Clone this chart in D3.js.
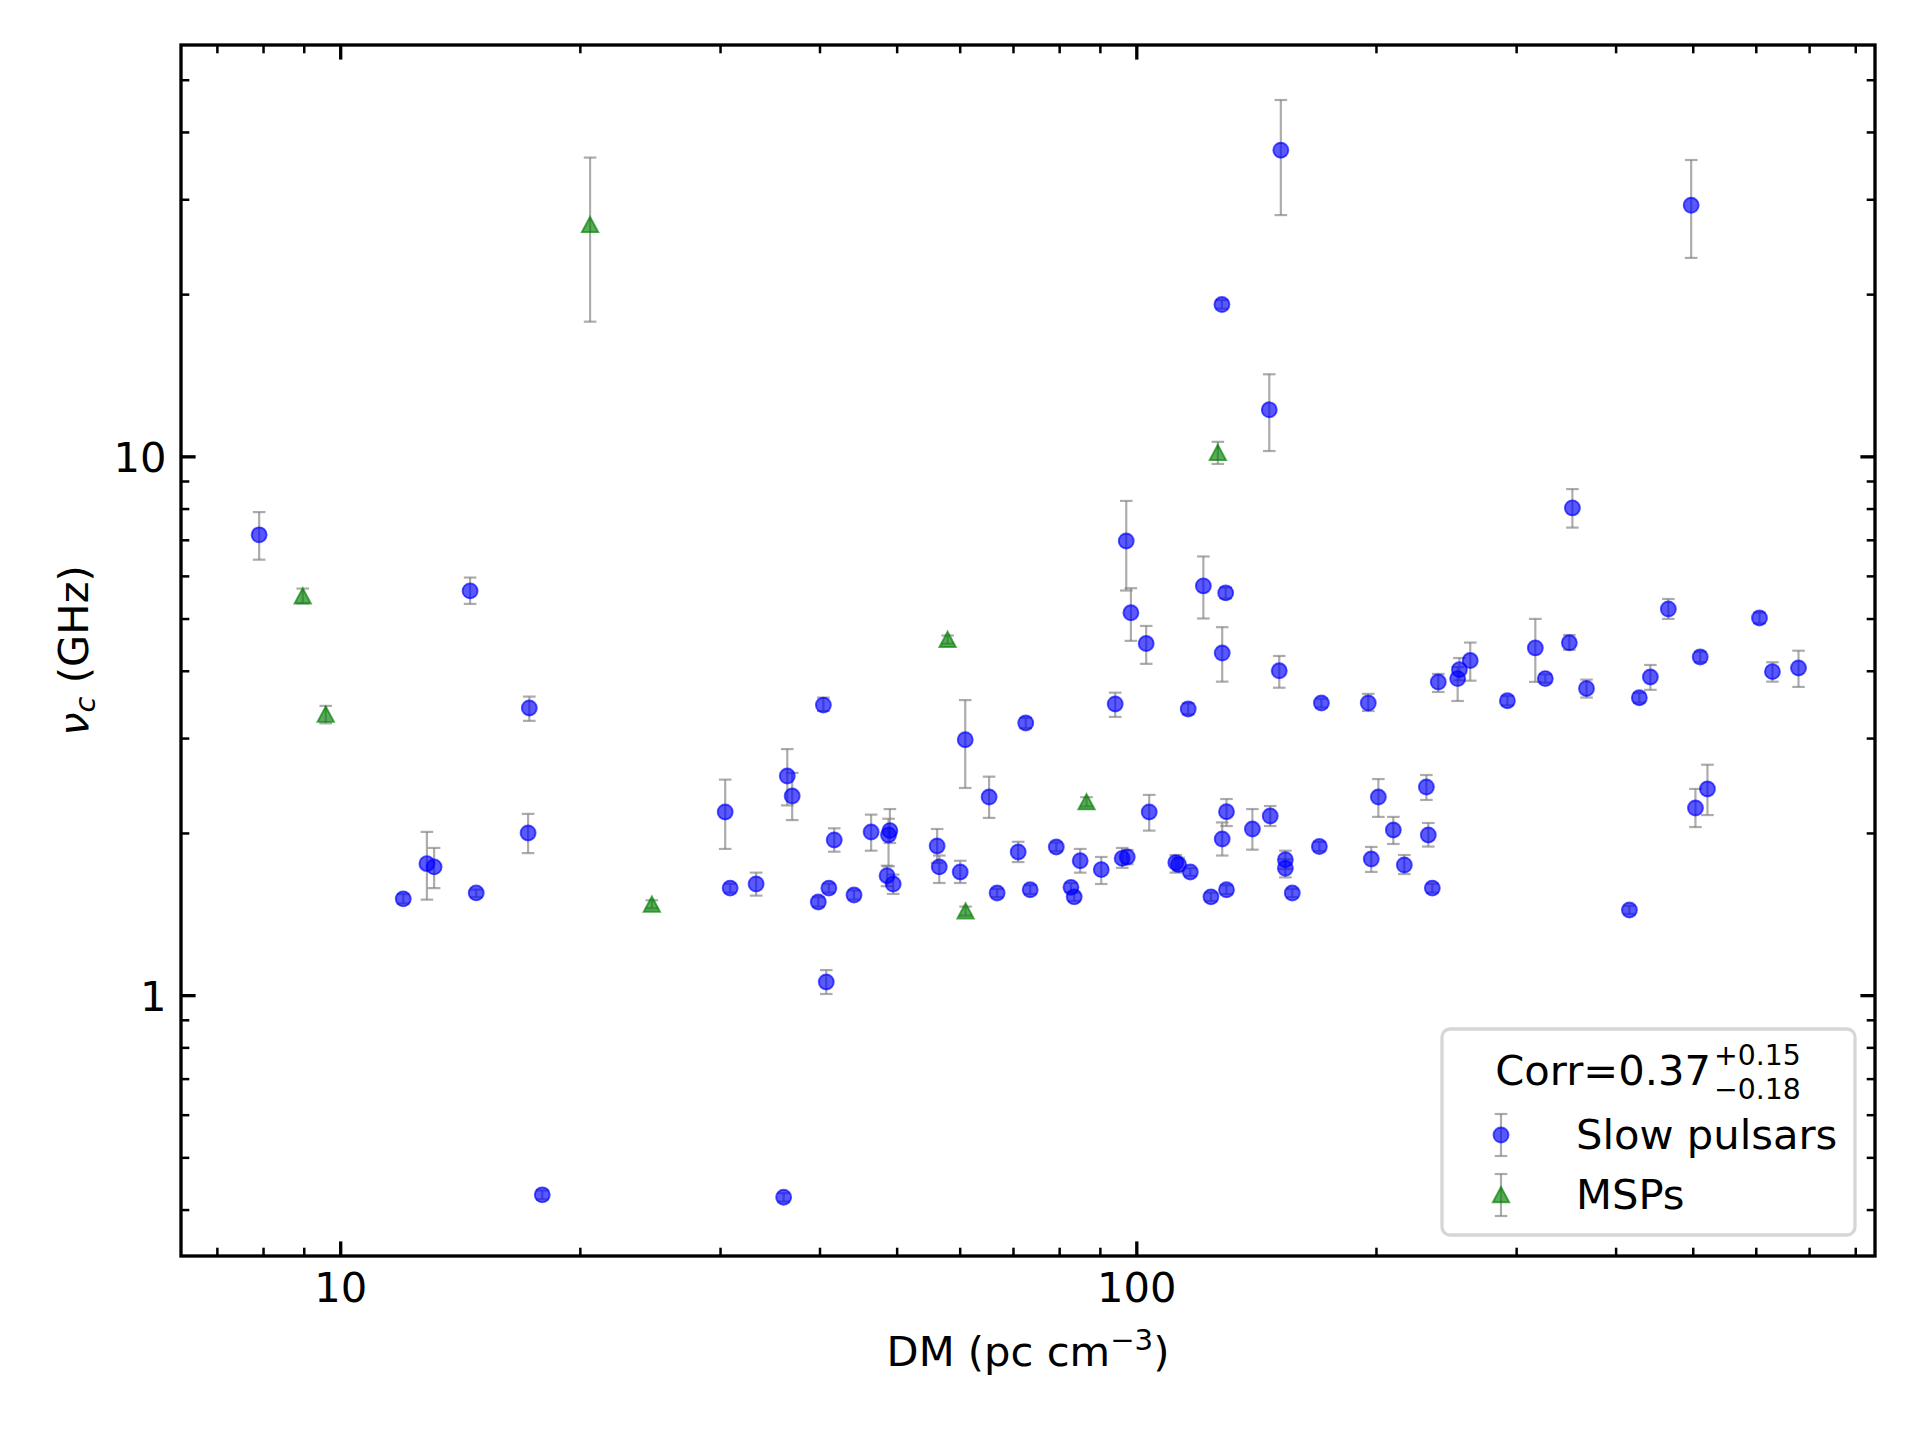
<!DOCTYPE html>
<html>
<head>
<meta charset="utf-8">
<script src="https://cdn.jsdelivr.net/npm/d3@7"></script>
<style>
  body { margin: 0; background: #fff; }
  svg { display: block; font-family: "DejaVu Sans", sans-serif; }
</style>
</head>
<body>
<script>
// slow pulsars: DM, turnover frequency and its lower / upper bound (GHz)
var slowDM = [7.91, 12.0, 12.85, 13.12, 14.56, 14.82, 17.28, 17.22, 17.94, 30.45,
  30.89, 33.30, 36.06, 36.44, 36.96, 40.45, 39.86, 40.79, 41.10, 41.74,
  44.20, 46.44, 49.03, 48.84, 48.63, 49.50, 56.21, 56.56, 60.09, 60.97,
  65.33, 66.86, 71.06, 72.63, 73.57, 79.34, 82.78, 83.56, 85.02, 90.36,
  94.08, 96.00, 97.41, 97.13, 98.45, 102.9, 103.8, 112.1, 113.0, 116.2,
  116.9, 121.4, 124.1, 128.2, 128.2, 128.1, 129.5, 129.8, 129.8, 139.9,
  146.9, 147.3, 151.2, 151.9, 153.9, 153.9, 157.0, 169.8, 170.8, 195.6,
  197.3, 201.4, 210.3, 217.1, 231.4, 232.7, 235.4, 239.5, 253.3, 254.6,
  262.7, 292.5, 317.1, 326.4, 349.9, 353.0, 367.7, 416.3, 428.4, 442.3,
  465.9, 497.7, 503.9, 510.9, 521.7, 606.4, 629.6, 678.9];
var slowNu = [7.15, 1.509, 1.754, 1.730, 5.627, 1.548, 3.412, 2.000, 0.426, 2.188,
  1.580, 1.608, 0.4217, 2.551, 2.342, 3.454, 1.489, 1.058, 1.580, 1.941,
  1.534, 2.008, 2.020, 1.983, 1.666, 1.608, 1.892, 1.730, 1.693, 2.979,
  2.332, 1.547, 1.844, 3.200, 1.569, 1.884, 1.585, 1.522, 1.776, 1.710,
  3.471, 1.794, 1.805, 6.966, 5.124, 4.493, 2.188, 1.762, 1.747, 3.397,
  1.693, 5.748, 1.522, 4.315, 1.949, 19.13, 5.579, 2.190, 1.569, 2.034,
  12.20, 2.150, 3.999, 37.00, 1.784, 1.720, 1.547, 1.887, 3.485, 3.485,
  1.789, 2.332, 2.026, 1.744, 2.434, 1.983, 1.580, 3.812, 3.868, 4.019,
  4.178, 3.519, 4.410, 3.868, 4.508, 8.022, 3.708, 1.439, 3.565, 3.895,
  5.208, 29.24, 2.225, 4.242, 2.414, 5.012, 3.985, 4.048];
var slowLo = [6.43, 1.48, 1.504, 1.580, 5.323, 1.52, 3.229, 1.835, 0.418, 1.868,
  1.55, 1.530, 0.414, 2.250, 2.113, 3.368, 1.46, 1.005, 1.55, 1.846,
  1.505, 1.854, 1.916, 1.734, 1.593, 1.541, 1.760, 1.615, 1.615, 2.424,
  2.133, 1.52, 1.766, 3.13, 1.54, 1.85, 1.555, 1.495, 1.688, 1.608,
  3.284, 1.723, 1.75, 5.636, 4.545, 4.120, 2.020, 1.688, 1.70, 3.32,
  1.665, 5.001, 1.495, 3.818, 1.816, 18.8, 5.45, 2.060, 1.54, 1.862,
  10.23, 2.060, 3.720, 28.04, 1.714, 1.654, 1.52, 1.85, 3.42, 3.368,
  1.693, 2.142, 1.908, 1.678, 2.303, 1.887, 1.55, 3.653, 3.515, 3.838,
  3.834, 3.45, 3.814, 3.80, 4.375, 7.375, 3.567, 1.415, 3.49, 3.687,
  4.992, 23.35, 2.051, 4.15, 2.159, 4.90, 3.818, 3.733];
var slowHi = [7.88, 1.54, 2.009, 1.876, 5.957, 1.57, 3.582, 2.170, 0.434, 2.512,
  1.61, 1.688, 0.429, 2.862, 2.585, 3.567, 1.52, 1.113, 1.61, 2.040,
  1.565, 2.163, 2.215, 2.125, 1.739, 1.674, 2.034, 1.816, 1.776, 3.529,
  2.544, 1.575, 1.926, 3.27, 1.60, 1.92, 1.615, 1.55, 1.868, 1.805,
  3.643, 1.876, 1.86, 8.265, 5.692, 4.844, 2.353, 1.820, 1.80, 3.48,
  1.72, 6.519, 1.55, 4.819, 2.092, 19.5, 5.71, 2.312, 1.60, 2.215,
  14.20, 2.244, 4.261, 45.85, 1.854, 1.788, 1.575, 1.925, 3.55, 3.624,
  1.884, 2.518, 2.142, 1.820, 2.562, 2.087, 1.61, 3.946, 4.064, 4.224,
  4.512, 3.59, 4.992, 3.94, 4.659, 8.694, 3.851, 1.465, 3.64, 4.100,
  5.436, 35.48, 2.414, 4.34, 2.677, 5.13, 4.148, 4.358];

// millisecond pulsars
var mspDM = [8.973, 9.590, 20.60, 24.63, 57.94, 61.03, 86.59, 126.6];
var mspNu = [5.499, 3.317, 26.89, 1.473, 4.569, 1.431, 2.282, 10.15];
var mspLo = [5.337, 3.195, 17.78, 1.45, 4.49, 1.405, 2.24, 9.68];
var mspHi = [5.683, 3.442, 35.85, 1.50, 4.65, 1.46, 2.33, 10.64];

// ticks
var xMajor = [10, 100];
var xMinor = [7, 8, 9, 20, 30, 40, 50, 60, 70, 80, 90, 200, 300, 400, 500, 600, 700, 800];
var yMajor = [1, 10];
var yMinor = [0.4, 0.5, 0.6, 0.7, 0.8, 0.9, 2, 3, 4, 5, 6, 7, 8, 9, 20, 30, 40, 50];

var legendTitle = {main: 'Corr=0.37', sup: '+0.15', sub: '\u22120.18'};
var legendLabels = ['Slow pulsars', 'MSPs'];

var w = 1920, h = 1440;
var L = 181, R = 1875, T = 45, B = 1256;
var fs = 41.67;
var majorLen = 14.6, minorLen = 8.3;

var x = d3.scaleLog().domain([6.31, 847]).range([L, R]);
var y = d3.scaleLog().domain([0.328, 58]).range([B, T]);

var svg = d3.select('body').append('svg')
  .attr('width', w)
  .attr('height', h);

svg.append('rect').attr('width', w).attr('height', h).attr('fill', '#fff');

var errColor = 'gray', errOpacity = 0.65, errWidth = 2.2, capHalf = 6.3;

function drawErrorbars(g, dm, lo, hi) {
  var idx = d3.range(dm.length);
  var eg = g.append('g')
    .attr('stroke', errColor)
    .attr('stroke-opacity', errOpacity)
    .attr('stroke-width', errWidth);
  eg.selectAll('.bar').data(idx).join('line')
    .attr('class', 'bar')
    .attr('x1', i => x(dm[i])).attr('x2', i => x(dm[i]))
    .attr('y1', i => y(lo[i])).attr('y2', i => y(hi[i]));
  eg.selectAll('.caplo').data(idx).join('line')
    .attr('class', 'caplo')
    .attr('x1', i => x(dm[i]) - capHalf).attr('x2', i => x(dm[i]) + capHalf)
    .attr('y1', i => y(lo[i])).attr('y2', i => y(lo[i]));
  eg.selectAll('.caphi').data(idx).join('line')
    .attr('class', 'caphi')
    .attr('x1', i => x(dm[i]) - capHalf).attr('x2', i => x(dm[i]) + capHalf)
    .attr('y1', i => y(hi[i])).attr('y2', i => y(hi[i]));
}

function circleStyle(sel) {
  sel.attr('r', 7.5)
    .attr('fill', 'blue').attr('fill-opacity', 0.65)
    .attr('stroke', 'blue').attr('stroke-opacity', 0.65)
    .attr('stroke-width', 1.9);
}

var triPath = 'M0,-8L8.2,7.3L-8.2,7.3Z';
function triStyle(sel) {
  sel.attr('d', triPath)
    .attr('fill', 'green').attr('fill-opacity', 0.65)
    .attr('stroke', 'green').attr('stroke-opacity', 0.65)
    .attr('stroke-width', 1.9);
}

// slow pulsars
var slowG = svg.append('g').attr('class', 'slow');
drawErrorbars(slowG, slowDM, slowLo, slowHi);
slowG.selectAll('circle').data(d3.range(slowDM.length)).join('circle')
  .attr('cx', i => x(slowDM[i]))
  .attr('cy', i => y(slowNu[i]))
  .call(circleStyle);

// MSPs
var mspG = svg.append('g').attr('class', 'msp');
drawErrorbars(mspG, mspDM, mspLo, mspHi);
mspG.selectAll('path').data(d3.range(mspDM.length)).join('path')
  .attr('transform', i => 'translate(' + x(mspDM[i]) + ',' + y(mspNu[i]) + ')')
  .call(triStyle);

// axes, ticks pointing inward on all four sides
function styleAxis(g, width) {
  g.select('.domain').remove();
  g.selectAll('line').attr('stroke', '#000').attr('stroke-width', width);
  g.selectAll('text').attr('font-size', fs).attr('fill', '#000')
    .attr('font-family', '"DejaVu Sans", sans-serif');
}

svg.append('g').attr('transform', 'translate(0,' + B + ')')
  .call(d3.axisBottom(x).tickValues(xMinor).tickSizeInner(-minorLen).tickSizeOuter(0).tickFormat(''))
  .call(g => styleAxis(g, 2.5));
svg.append('g').attr('transform', 'translate(0,' + B + ')')
  .call(d3.axisBottom(x).tickValues(xMajor).tickSizeInner(-majorLen).tickSizeOuter(0).tickPadding(16).tickFormat(d3.format('d')))
  .call(g => styleAxis(g, 3.33));
svg.append('g').attr('transform', 'translate(0,' + T + ')')
  .call(d3.axisTop(x).tickValues(xMinor).tickSizeInner(-minorLen).tickSizeOuter(0).tickFormat(''))
  .call(g => styleAxis(g, 2.5));
svg.append('g').attr('transform', 'translate(0,' + T + ')')
  .call(d3.axisTop(x).tickValues(xMajor).tickSizeInner(-majorLen).tickSizeOuter(0).tickFormat(''))
  .call(g => styleAxis(g, 3.33));

svg.append('g').attr('transform', 'translate(' + L + ',0)')
  .call(d3.axisLeft(y).tickValues(yMinor).tickSizeInner(-minorLen).tickSizeOuter(0).tickFormat(''))
  .call(g => styleAxis(g, 2.5));
svg.append('g').attr('transform', 'translate(' + L + ',0)')
  .call(d3.axisLeft(y).tickValues(yMajor).tickSizeInner(-majorLen).tickSizeOuter(0).tickPadding(14.6).tickFormat(d3.format('d')))
  .call(g => styleAxis(g, 3.33))
  .call(g => g.selectAll('text').attr('dy', '0.36em'));
svg.append('g').attr('transform', 'translate(' + R + ',0)')
  .call(d3.axisRight(y).tickValues(yMinor).tickSizeInner(-minorLen).tickSizeOuter(0).tickFormat(''))
  .call(g => styleAxis(g, 2.5));
svg.append('g').attr('transform', 'translate(' + R + ',0)')
  .call(d3.axisRight(y).tickValues(yMajor).tickSizeInner(-majorLen).tickSizeOuter(0).tickFormat(''))
  .call(g => styleAxis(g, 3.33));

// frame
svg.append('rect')
  .attr('x', L).attr('y', T)
  .attr('width', R - L).attr('height', B - T)
  .attr('fill', 'none').attr('stroke', '#000').attr('stroke-width', 3.33);

// axis labels
var xl = svg.append('text')
  .attr('x', (L + R) / 2).attr('y', 1366)
  .attr('text-anchor', 'middle').attr('font-size', fs);
xl.append('tspan').text('DM (pc cm');
xl.append('tspan').attr('font-size', fs * 0.7).attr('dy', -16).text('\u22123');
xl.append('tspan').attr('font-size', fs).attr('dy', 16).text(')');

var yl = svg.append('text')
  .attr('transform', 'translate(88,' + ((T + B) / 2) + ') rotate(-90)')
  .attr('text-anchor', 'middle').attr('font-size', fs);
yl.append('tspan').attr('font-style', 'italic').text('\u03bd');
yl.append('tspan').attr('font-style', 'italic').attr('font-size', fs * 0.7).attr('dy', 7).text('c');
yl.append('tspan').attr('font-size', fs).attr('dy', -7).text(' (GHz)');

// legend
var lg = svg.append('g').attr('class', 'legend');
lg.append('rect')
  .attr('x', 1442).attr('y', 1029).attr('width', 413).attr('height', 206)
  .attr('rx', 8).attr('ry', 8)
  .attr('fill', '#fff').attr('fill-opacity', 0.8)
  .attr('stroke', '#ccc').attr('stroke-opacity', 0.8).attr('stroke-width', 3.3);

// title: main text with stacked super/subscript, centred in the box
var tg = lg.append('g');
var tMain = tg.append('text').attr('x', 0).attr('y', 1085).attr('font-size', fs).text(legendTitle.main);
var mainW = tMain.node().getComputedTextLength();
var tSup = tg.append('text').attr('x', mainW + 3).attr('y', 1065).attr('font-size', fs * 0.68).text(legendTitle.sup);
var tSub = tg.append('text').attr('x', mainW + 3).attr('y', 1099).attr('font-size', fs * 0.68).text(legendTitle.sub);
var scriptW = Math.max(tSup.node().getComputedTextLength(), tSub.node().getComputedTextLength());
var titleW = mainW + 3 + scriptW;
tg.attr('transform', 'translate(' + (1648 - titleW / 2) + ',0)');

var entryY = [1135, 1195];
var entryX = 1501;
legendLabels.forEach(function (label, k) {
  var cy = entryY[k];
  var eg = lg.append('g')
    .attr('stroke', errColor).attr('stroke-opacity', errOpacity).attr('stroke-width', errWidth);
  eg.append('line').attr('x1', entryX).attr('x2', entryX).attr('y1', cy - 21).attr('y2', cy + 21);
  eg.append('line').attr('x1', entryX - capHalf).attr('x2', entryX + capHalf).attr('y1', cy - 21).attr('y2', cy - 21);
  eg.append('line').attr('x1', entryX - capHalf).attr('x2', entryX + capHalf).attr('y1', cy + 21).attr('y2', cy + 21);
  if (k === 0) {
    lg.append('circle').attr('cx', entryX).attr('cy', cy).call(circleStyle);
  } else {
    lg.append('path').attr('transform', 'translate(' + entryX + ',' + cy + ')').call(triStyle);
  }
  lg.append('text').attr('x', 1576).attr('y', cy + 14).attr('font-size', fs).text(label);
});
</script>
</body>
</html>
